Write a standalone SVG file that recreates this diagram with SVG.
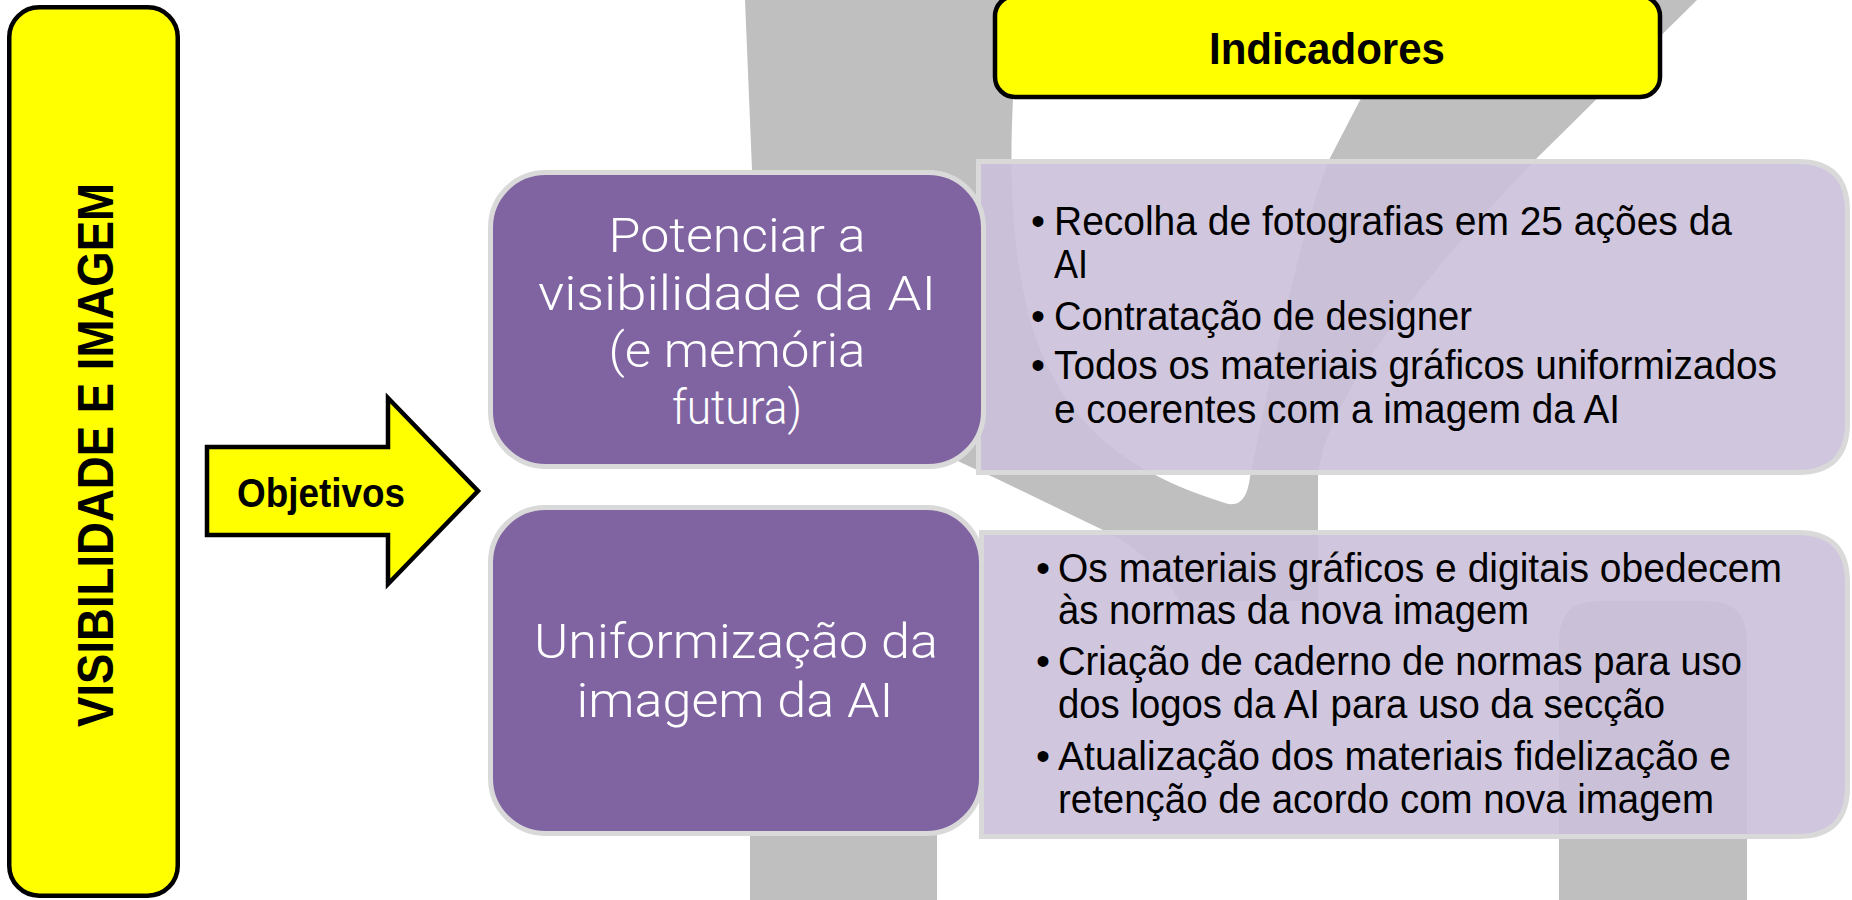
<svg xmlns="http://www.w3.org/2000/svg" width="1852" height="900" viewBox="0 0 1852 900">
<style>
.yel{fill:#FFFF00;stroke:#000;stroke-width:4.5;stroke-linejoin:miter}
.bold{font-family:"Liberation Sans",Arial,sans-serif;font-weight:bold;fill:#000}
.pur{fill:#8064A2;stroke:#D9D9D9;stroke-width:5}
.lite{fill:#CBC1DA;fill-opacity:0.9;stroke:#D9D9D9;stroke-width:5}
.ptxt{font-family:Roboto,"Liberation Sans",sans-serif;font-weight:300;font-size:49px;fill:#FFFFFF;text-anchor:middle}
.btxt{font-family:"Liberation Sans",Arial,sans-serif;font-size:40px;fill:#000}
</style>
<rect width="1852" height="900" fill="#FFFFFF"/>
<g id="background">
<path fill="#BFBFBF" d="M745,0 L1020,0 C1010,120 1004,220 1030,320 C1060,420 1120,470 1225,503 Q1246,510 1250,477 C1270,380 1300,230 1330,158 L1412,0 L1697,0 L1537,158 C1420,280 1325,400 1318,477 L1318,601 L1180,601 C1160,570 1140,548 1103,530 L993,477 C860,420 760,330 752,170 Z"/>
<path fill="#BFBFBF" d="M1559,900 L1559,641 Q1559,601 1599,601 L1707,601 Q1747,601 1747,641 L1747,900 Z"/>
<rect x="750" y="700" width="187" height="200" fill="#BFBFBF"/>
</g>
<g id="node-visibilidade">
<rect class="yel" x="9.25" y="7.25" width="168.5" height="888.5" rx="30"/>
<text class="bold" font-size="50" text-anchor="middle" transform="translate(113,455) rotate(-90)" textLength="544" lengthAdjust="spacingAndGlyphs">VISIBILIDADE E IMAGEM</text>
</g>
<g id="connectors">
<polygon class="yel" points="207,447 388,447 388,398 478,491 388,584 388,535 207,535"/>
<text class="bold" font-size="40" x="237" y="507" textLength="168" lengthAdjust="spacingAndGlyphs">Objetivos</text>
</g>
<g id="node-indicadores">
<rect class="yel" x="995" y="-4" width="665" height="101" rx="20"/>
<text class="bold" font-size="44" x="1327" y="64" text-anchor="middle" textLength="236" lengthAdjust="spacingAndGlyphs">Indicadores</text>
</g>
<g id="node-indicadores-1">
<path class="lite" d="M978.5,161.5 L1797.5,161.5 Q1847.5,161.5 1847.5,211.5 L1847.5,422.5 Q1847.5,472.5 1797.5,472.5 L978.5,472.5 Z"/>
<text class="btxt" x="1031" y="235">•</text>
<text class="btxt" x="1054" y="235" textLength="678" lengthAdjust="spacingAndGlyphs">Recolha de fotografias em 25 ações da</text>
<text class="btxt" x="1054" y="278" textLength="34" lengthAdjust="spacingAndGlyphs">AI</text>
<text class="btxt" x="1031" y="330">•</text>
<text class="btxt" x="1054" y="330" textLength="418" lengthAdjust="spacingAndGlyphs">Contratação de designer</text>
<text class="btxt" x="1031" y="379">•</text>
<text class="btxt" x="1054" y="379" textLength="723" lengthAdjust="spacingAndGlyphs">Todos os materiais gráficos uniformizados</text>
<text class="btxt" x="1054" y="423" textLength="566" lengthAdjust="spacingAndGlyphs">e coerentes com a imagem da AI</text>
</g>
<g id="node-indicadores-2">
<path class="lite" d="M981.5,532.5 L1797.5,532.5 Q1847.5,532.5 1847.5,582.5 L1847.5,786.5 Q1847.5,836.5 1797.5,836.5 L981.5,836.5 Z"/>
<text class="btxt" x="1036" y="582">•</text>
<text class="btxt" x="1058" y="582" textLength="724" lengthAdjust="spacingAndGlyphs">Os materiais gráficos e digitais obedecem</text>
<text class="btxt" x="1058" y="624" textLength="471" lengthAdjust="spacingAndGlyphs">às normas da nova imagem</text>
<text class="btxt" x="1036" y="675">•</text>
<text class="btxt" x="1058" y="675" textLength="684" lengthAdjust="spacingAndGlyphs">Criação de caderno de normas para uso</text>
<text class="btxt" x="1058" y="718" textLength="607" lengthAdjust="spacingAndGlyphs">dos logos da AI para uso da secção</text>
<text class="btxt" x="1036" y="770">•</text>
<text class="btxt" x="1058" y="770" textLength="673" lengthAdjust="spacingAndGlyphs">Atualização dos materiais fidelização e</text>
<text class="btxt" x="1058" y="813" textLength="656" lengthAdjust="spacingAndGlyphs">retenção de acordo com nova imagem</text>
</g>
<g id="node-objetivo-1">
<rect class="pur" x="490.5" y="172.5" width="493" height="294" rx="55"/>
<text class="ptxt" x="737" y="252" textLength="257" lengthAdjust="spacingAndGlyphs">Potenciar a</text>
<text class="ptxt" x="737" y="310" textLength="398" lengthAdjust="spacingAndGlyphs">visibilidade da AI</text>
<text class="ptxt" x="737" y="367" textLength="257" lengthAdjust="spacingAndGlyphs">(e memória</text>
<text class="ptxt" x="737" y="424" textLength="130" lengthAdjust="spacingAndGlyphs">futura)</text>
</g>
<g id="node-objetivo-2">
<rect class="pur" x="490.5" y="507.5" width="491" height="326" rx="55"/>
<text class="ptxt" x="736" y="658" textLength="404" lengthAdjust="spacingAndGlyphs">Uniformização da</text>
<text class="ptxt" x="735" y="717" textLength="317" lengthAdjust="spacingAndGlyphs">imagem da AI</text>
</g>
</svg>
